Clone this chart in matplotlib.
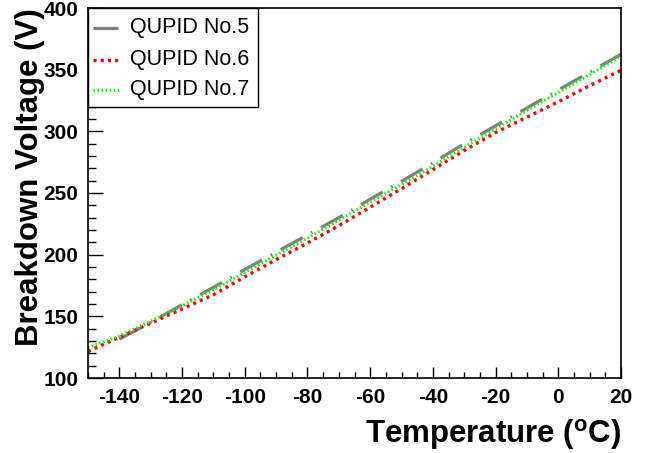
import matplotlib
matplotlib.use("Agg")
import matplotlib.pyplot as plt
from matplotlib.ticker import MultipleLocator
from matplotlib.patches import Rectangle
from matplotlib.lines import Line2D

plt.rcParams['font.family'] = ['Liberation Sans', 'DejaVu Sans']
plt.rcParams['lines.scale_dashes'] = False
plt.rcParams['axes.unicode_minus'] = False
plt.rcParams['mathtext.fontset'] = 'custom'
plt.rcParams['mathtext.bf'] = 'Liberation Sans:bold'
plt.rcParams['mathtext.rm'] = 'Liberation Sans'

# Data
temp_no5 = [-140, -130, -120, -110, -100, -90, -80, -70, -60, -50, -40, -30, -20, -10, 0, 10, 20]
volt_no5 = [131.5, 145, 159.5, 173.5, 188, 202, 216, 230, 245, 259.5, 274.5, 290, 304.5, 319, 333.5, 348, 362.5]

temp_no6 = [-150, -140, -130, -120, -110, -100, -90, -80, -70, -60, -50, -40, -30, -20, -10, 0, 10, 20]
volt_no6 = [121.5, 133, 144.5, 156, 167.5, 182, 196, 209.5, 223.5, 238.5, 253.5, 269, 284.5, 299, 311.5, 324, 337, 349.5]

temp_no7 = [-150, -140, -130, -120, -110, -100, -90, -80, -70, -60, -50, -40, -30, -20, -10, 0, 10, 20]
volt_no7 = [124.5, 134, 146, 158.5, 171.5, 185.5, 199.5, 213.5, 228, 242.5, 257, 271.5, 287, 302, 317, 331.5, 346, 361]

labels = ["QUPID No.5", "QUPID No.6", "QUPID No.7"]

W, H = 647, 453
fig = plt.figure(figsize=(W / 100, H / 100), dpi=100)
ax = fig.add_axes([88 / W, 1 - 378 / H, (621 - 88) / W, (378 - 8) / H])

styles = [
    dict(color='#808080', lw=2.3, linestyle=(0, (18, 7, 1.2, 7)), dash_capstyle='butt'),
    dict(color='#ff0000', lw=2.4, linestyle=(0, (2.2, 3.0)), dash_capstyle='butt'),
    dict(color='#00ff00', lw=2.2, linestyle=(0, (1.1, 1.8)), dash_capstyle='butt'),
]
series = [(temp_no5, volt_no5), (temp_no6, volt_no6), (temp_no7, volt_no7)]
for (t, v), st, lab in zip(series, styles, labels):
    ax.plot(t, v, label=lab, **st)

ax.set_xlim(-150, 20)
ax.set_ylim(100, 400)
ax.xaxis.set_major_locator(MultipleLocator(20))
ax.xaxis.set_minor_locator(MultipleLocator(5))
ax.yaxis.set_major_locator(MultipleLocator(50))
ax.yaxis.set_minor_locator(MultipleLocator(10))

ax.tick_params(which='both', direction='in', top=False, right=False, width=1.0, color='black')
ax.tick_params(axis='x', which='major', length=8, pad=7)
ax.tick_params(axis='x', which='minor', length=4)
ax.tick_params(axis='y', which='major', length=11, pad=7)
ax.tick_params(axis='y', which='minor', length=5.5)
for lab in ax.get_xticklabels() + ax.get_yticklabels():
    lab.set_fontsize(15)
    lab.set_fontweight('bold')
for s in ax.spines.values():
    s.set_linewidth(1.2)

fig.text(621 / W, 1 - 443 / H, r'Temperature ($^{\mathbf{o}}$C)', ha='right', va='baseline',
         fontsize=22.5, fontweight='bold')
fig.text(30 / W, 1 - 8 / H, 'Breakdown Voltage (V)', ha='center', va='top', rotation=90,
         fontsize=22.5, fontweight='bold')

# Legend box (ROOT-style TLegend), positioned in figure pixel space
def fx(px):
    return px / W

def fy(py):
    return 1 - py / H

fig.patches.append(Rectangle((fx(88), fy(107)), fx(258) - fx(88), fy(8) - fy(107),
                             transform=fig.transFigure, facecolor='white',
                             edgecolor='black', lw=1.0, zorder=5))
rows = [28, 60, 90]
for row, st, lab in zip(rows, styles, labels):
    fig.lines.append(Line2D([fx(93), fx(119)], [fy(row), fy(row)], transform=fig.transFigure,
                            zorder=6, **st))
    fig.text(fx(130), fy(row), lab, ha='left', va='center', fontsize=15.5, zorder=6)

fig.savefig('out.png', dpi=100)
